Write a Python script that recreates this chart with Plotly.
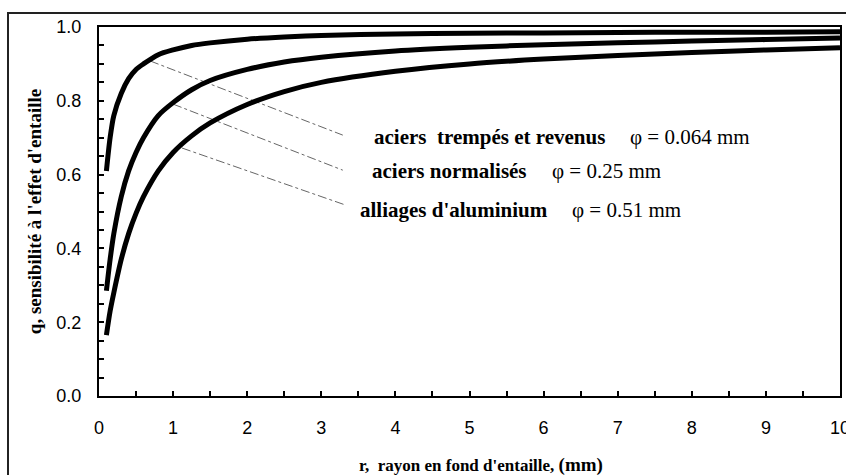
import plotly.graph_objects as go

# notch radius r (mm)
r = [0.1, 0.15, 0.2, 0.3, 0.4, 0.5, 0.6, 0.8, 1.0, 1.25, 1.5, 2.0, 2.5, 3.0, 4.0, 5.0, 6.0, 7.0, 8.0, 9.0, 10.0]
# notch sensitivity q
q_trempes = [0.61, 0.70, 0.76, 0.82, 0.86, 0.885, 0.90, 0.925, 0.938, 0.95, 0.957, 0.967, 0.973, 0.977, 0.981, 0.983, 0.984, 0.985, 0.986, 0.986, 0.987]
q_normalises = [0.285, 0.37, 0.44, 0.54, 0.61, 0.66, 0.70, 0.76, 0.795, 0.83, 0.855, 0.885, 0.905, 0.918, 0.935, 0.945, 0.952, 0.957, 0.962, 0.966, 0.970]
q_alu = [0.165, 0.23, 0.28, 0.37, 0.44, 0.495, 0.54, 0.61, 0.66, 0.705, 0.74, 0.79, 0.825, 0.85, 0.88, 0.90, 0.913, 0.923, 0.931, 0.938, 0.944]

# leader lines (start on curve, end near label)
lead1_x = [0.69, 3.29]
lead1_y = [0.908, 0.707]
lead2_x = [1.0, 3.29]
lead2_y = [0.791, 0.612]
lead3_x = [1.12, 3.32]
lead3_y = [0.672, 0.518]

labels = ["aciers\u00a0\u00a0trempés et revenus", "aciers normalisés", "alliages d'aluminium"]
phis = ["\u03c6 = 0.064 mm", "\u03c6 = 0.25 mm", "\u03c6 = 0.51 mm"]
label_x = [3.68, 3.66, 3.50]
phi_x = [7.14, 6.09, 6.36]
label_y = [0.702, 0.610, 0.504]

xticks = [0, 1, 2, 3, 4, 5, 6, 7, 8, 9, 10]
yticks = [0.0, 0.2, 0.4, 0.6, 0.8, 1.0]

fig = go.Figure()
for lx, ly in [(lead1_x, lead1_y), (lead2_x, lead2_y), (lead3_x, lead3_y)]:
    fig.add_trace(go.Scatter(x=lx, y=ly, mode="lines",
                             line=dict(color="#666666", width=1, dash="dashdot"),
                             hoverinfo="skip", showlegend=False))
for q in [q_trempes, q_normalises, q_alu]:
    fig.add_trace(go.Scatter(x=r, y=q, mode="lines",
                             line=dict(color="black", width=5, shape="spline", smoothing=0.8),
                             showlegend=False))

serif = "Liberation Serif"
for i in range(3):
    fig.add_annotation(x=label_x[i], y=label_y[i], text="<b>" + labels[i] + "</b>",
                       xanchor="left", yanchor="middle", showarrow=False,
                       bgcolor="white", font=dict(family=serif, size=21, color="black"))
    fig.add_annotation(x=phi_x[i], y=label_y[i], text=phis[i],
                       xanchor="left", yanchor="middle", showarrow=False,
                       bgcolor="white", font=dict(family=serif, size=21, color="black"))

# x axis title (slightly right of centre as in the original)
fig.add_annotation(xref="paper", yref="paper", x=0.516, y=-0.187,
                   text="<b>r,\u00a0\u00a0rayon en fond d'entaille, <span style='font-size:19px'>(mm)</span></b>",
                   xanchor="center", yanchor="middle", showarrow=False,
                   font=dict(family=serif, size=17, color="black"))

# outer frame
fig.add_shape(type="rect", xref="paper", yref="paper",
              x0=-0.1228, x1=1.02, y0=-0.25, y1=1.038,
              line=dict(color="#222222", width=2), layer="below")

fig.update_layout(
    width=846, height=475,
    margin=dict(l=99, r=6, t=27, b=79),
    paper_bgcolor="white", plot_bgcolor="white",
    font=dict(family="Liberation Sans", size=18, color="black"),
    xaxis=dict(range=[0, 10], tickvals=xticks, ticktext=[str(v) for v in xticks],
               ticks="inside", ticklen=5, tickwidth=1.5, tickcolor="black",
               minor=dict(dtick=0.5, ticks="inside", ticklen=5, tickwidth=1.5, tickcolor="black"),
               showline=True, linecolor="black", linewidth=2, mirror=True,
               showgrid=False, zeroline=False, ticklabelstandoff=14, automargin=False,
               ticklabeloverflow="allow"),
    yaxis=dict(range=[0, 1.0], tickvals=yticks, ticktext=["%.1f" % v for v in yticks],
               ticks="inside", ticklen=5, tickwidth=1.5, tickcolor="black",
               minor=dict(dtick=0.05, ticks="inside", ticklen=5, tickwidth=1.5, tickcolor="black"),
               showline=True, linecolor="black", linewidth=2, mirror=True,
               showgrid=False, zeroline=False, ticklabelstandoff=12, automargin=False,
               title=dict(text="<b>q, sensibilité à l'effet d'entaille</b>",
                          font=dict(family=serif, size=19), standoff=10)),
)

fig.write_html("out.html", config={"displayModeBar": False},
               post_script="document.body.style.margin='0';")
